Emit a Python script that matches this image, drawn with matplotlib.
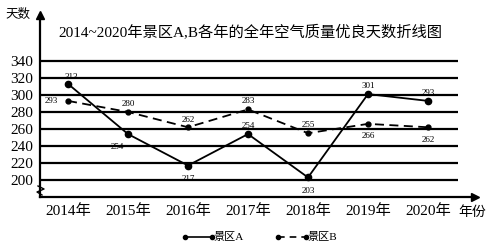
import matplotlib.pyplot as plt

plt.rcParams['font.family'] = ['Liberation Serif', 'Noto Sans CJK SC']

years = ['2014年', '2015年', '2016年', '2017年', '2018年', '2019年', '2020年']
scenic_a = [313, 254, 217, 254, 203, 301, 293]
scenic_b = [293, 280, 262, 283, 255, 266, 262]
y_ticks = [200, 220, 240, 260, 280, 300, 320, 340]

# label offsets (points) for each data label
off_a = [(2, 5), (-8, -9), (0, -10), (0, 6), (0, -10), (0, 6), (0, 6)]
off_b = [(-12, 0), (0, 6), (0, 5), (0, 6), (0, 6), (0, -9), (0, -9)]

W, H = 490, 246
fig = plt.figure(figsize=(W / 100, H / 100), dpi=100)
ax = fig.add_axes([40 / W, 49 / H, 435 / W, 182 / H])

x = list(range(len(years)))
ax.set_xlim(-28 / 60, 407 / 60)
ax.set_ylim(180, 394)

# horizontal grid lines
ax.hlines(y_ticks, -28 / 60, 390 / 60, colors='black', lw=1.6)

ax.plot(x, scenic_a, color='black', lw=1.3, marker='o', ms=4.5)
ax.plot(x, scenic_b, color='black', lw=1.3, ls=(0, (5, 3)), marker='o', ms=3.5)

for i in x:
    ax.annotate(str(scenic_a[i]), (i, scenic_a[i]), textcoords='offset points',
                xytext=off_a[i], ha='center', va='center', fontsize=6.5)
    ax.annotate(str(scenic_b[i]), (i, scenic_b[i]), textcoords='offset points',
                xytext=off_b[i], ha='center', va='center', fontsize=6.5)

ax.set_yticks(y_ticks)
ax.set_yticklabels([str(v) for v in y_ticks], fontsize=11)
ax.set_xticks(x)
ax.set_xticklabels(years, fontsize=11)
ax.tick_params(length=0, pad=5)

for s in ['top', 'right']:
    ax.spines[s].set_visible(False)
ax.spines['left'].set_linewidth(1.6)
ax.spines['bottom'].set_linewidth(1.6)

# axis arrows
ax.plot(0, 1, '^k', ms=6, transform=ax.transAxes, clip_on=False)
ax.plot(1, 0, '>k', ms=6, transform=ax.transAxes, clip_on=False)

# axis break mark on y axis
fig.lines.append(plt.Line2D([38 / W, 44 / W, 37 / W, 42 / W],
                            [1 - 186 / H, 1 - 189 / H, 1 - 192 / H, 1 - 195 / H],
                            color='black', lw=1.0, transform=fig.transFigure))

fig.text(5 / W, 1 - 15 / H, '天数', fontsize=9, va='center')
fig.text(250 / W, 1 - 33 / H, '2014~2020年景区A,B各年的全年空气质量优良天数折线图',
         fontsize=11, ha='center', va='center')
fig.text(458 / W, 1 - 212 / H, '年份', fontsize=10, va='center')

# legend drawn by hand
ly = 1 - 237 / H
fig.lines.append(plt.Line2D([185 / W, 212 / W], [ly, ly], color='black', lw=1.2,
                            marker='o', ms=3, transform=fig.transFigure))
fig.text(214 / W, ly, '景区A', fontsize=8, va='center')
fig.lines.append(plt.Line2D([278 / W, 306 / W], [ly, ly], color='black', lw=1.2,
                            ls=(0, (4, 3)), marker='o', ms=3, transform=fig.transFigure))
fig.text(308 / W, ly, '景区B', fontsize=8, va='center')

fig.savefig('out.png', dpi=100)
